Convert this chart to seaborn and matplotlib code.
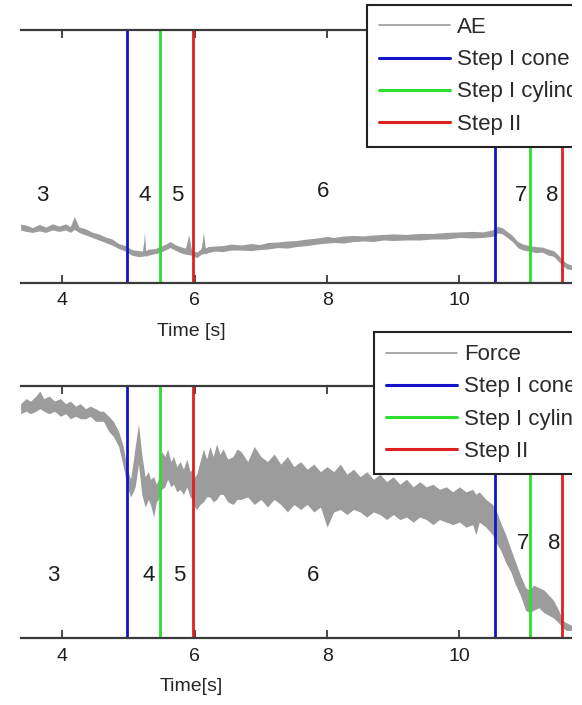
import numpy as np
import pandas as pd
import matplotlib
matplotlib.use("Agg")
import matplotlib.pyplot as plt
import seaborn as sns
from matplotlib.lines import Line2D
from matplotlib.patches import Rectangle

# ---------------- data (y as fraction of panel height) -------------
ae_t = [3.37, 3.45, 3.55, 3.65, 3.75, 3.85, 3.95, 4.05, 4.12, 4.18, 4.25, 4.35, 4.45, 4.55,
        4.65, 4.75, 4.85, 4.95, 5.05, 5.15, 5.22, 5.24, 5.26, 5.30, 5.40, 5.47, 5.55, 5.63,
        5.70, 5.78, 5.86, 5.91, 5.95, 6.03, 6.10, 6.13, 6.16, 6.20, 6.30, 6.42, 6.55, 6.70,
        6.85, 6.98, 7.10, 7.25, 7.40, 7.54, 7.70, 7.85, 8.00, 8.10, 8.25, 8.40, 8.55, 8.70,
        8.85, 9.00, 9.20, 9.40, 9.60, 9.80, 10.00, 10.20, 10.35, 10.50, 10.58, 10.65, 10.72,
        10.80, 10.88, 10.96, 11.06, 11.15, 11.25, 11.34, 11.42, 11.48, 11.55, 11.62, 11.70]
ae_hi = [0.232, 0.228, 0.218, 0.231, 0.220, 0.233, 0.224, 0.233, 0.222, 0.262, 0.221, 0.213,
         0.200, 0.193, 0.181, 0.173, 0.155, 0.147, 0.131, 0.127, 0.125, 0.200, 0.127, 0.133,
         0.135, 0.143, 0.151, 0.163, 0.151, 0.143, 0.137, 0.190, 0.131, 0.121, 0.135, 0.200,
         0.137, 0.143, 0.145, 0.147, 0.153, 0.149, 0.155, 0.151, 0.159, 0.161, 0.165, 0.167,
         0.173, 0.177, 0.183, 0.179, 0.185, 0.187, 0.185, 0.189, 0.191, 0.193, 0.191, 0.195,
         0.195, 0.199, 0.201, 0.203, 0.201, 0.209, 0.223, 0.217, 0.203, 0.187, 0.163, 0.153,
         0.147, 0.143, 0.141, 0.133, 0.127, 0.113, 0.093, 0.077, 0.069]
ae_lo = [0.208, 0.203, 0.199, 0.205, 0.199, 0.209, 0.203, 0.209, 0.199, 0.211, 0.199, 0.189,
         0.179, 0.169, 0.159, 0.149, 0.135, 0.125, 0.109, 0.103, 0.105, 0.107, 0.105, 0.109,
         0.115, 0.119, 0.129, 0.139, 0.129, 0.119, 0.113, 0.111, 0.109, 0.099, 0.113, 0.115,
         0.115, 0.119, 0.125, 0.123, 0.129, 0.129, 0.127, 0.131, 0.133, 0.139, 0.137, 0.143,
         0.147, 0.153, 0.157, 0.159, 0.157, 0.163, 0.165, 0.163, 0.169, 0.167, 0.169, 0.169,
         0.173, 0.173, 0.179, 0.177, 0.179, 0.183, 0.197, 0.193, 0.179, 0.163, 0.139, 0.129,
         0.125, 0.119, 0.121, 0.109, 0.105, 0.089, 0.069, 0.055, 0.051]

force_t = [3.37, 3.45, 3.52, 3.60, 3.66, 3.72, 3.80, 3.88, 3.97, 4.05, 4.12, 4.20, 4.27, 4.35,
           4.42, 4.50, 4.57, 4.62, 4.70, 4.77, 4.85, 4.92, 4.98, 5.03, 5.07, 5.10, 5.15, 5.20,
           5.25, 5.30, 5.33, 5.38, 5.42, 5.45, 5.50, 5.55, 5.59, 5.64, 5.68, 5.73, 5.78, 5.83,
           5.88, 5.93, 5.96, 6.00, 6.03, 6.08, 6.13, 6.18, 6.23, 6.28, 6.33, 6.38, 6.43, 6.50,
           6.58, 6.64, 6.70, 6.80, 6.90, 7.00, 7.10, 7.20, 7.30, 7.40, 7.50, 7.60, 7.70, 7.80,
           7.90, 8.00, 8.10, 8.20, 8.30, 8.40, 8.50, 8.60, 8.70, 8.80, 8.90, 9.00, 9.10, 9.20,
           9.30, 9.40, 9.50, 9.60, 9.70, 9.80, 9.90, 10.00, 10.10, 10.20, 10.25, 10.30, 10.40,
           10.50, 10.55, 10.62, 10.70, 10.78, 10.85, 10.92, 11.00, 11.06, 11.12, 11.20, 11.28,
           11.35, 11.42, 11.50, 11.56, 11.62, 11.70]
force_hi = [0.93, 0.95, 0.94, 0.96, 0.98, 0.95, 0.96, 0.94, 0.95, 0.93, 0.94, 0.92, 0.93, 0.91,
            0.92, 0.91, 0.90, 0.90, 0.88, 0.86, 0.82, 0.76, 0.67, 0.63, 0.70, 0.76, 0.85, 0.73,
            0.64, 0.66, 0.63, 0.64, 0.61, 0.63, 0.74, 0.72, 0.75, 0.70, 0.72, 0.68, 0.70, 0.67,
            0.71, 0.66, 0.67, 0.64, 0.65, 0.70, 0.75, 0.71, 0.76, 0.72, 0.77, 0.73, 0.75, 0.71,
            0.72, 0.75, 0.74, 0.70, 0.76, 0.72, 0.70, 0.73, 0.69, 0.72, 0.68, 0.70, 0.67, 0.69,
            0.66, 0.68, 0.66, 0.69, 0.65, 0.67, 0.64, 0.66, 0.63, 0.65, 0.62, 0.64, 0.61, 0.63,
            0.60, 0.62, 0.60, 0.61, 0.59, 0.60, 0.58, 0.60, 0.58, 0.59, 0.57, 0.58, 0.55,
            0.53, 0.51, 0.46, 0.41, 0.35, 0.30, 0.25, 0.20, 0.19, 0.21, 0.20, 0.19,
            0.17, 0.15, 0.11, 0.07, 0.06, 0.05]
force_lo = [0.89, 0.90, 0.89, 0.90, 0.91, 0.90, 0.89, 0.90, 0.88, 0.89, 0.87, 0.88, 0.87, 0.87,
            0.88, 0.86, 0.86, 0.86, 0.82, 0.80, 0.76, 0.68, 0.60, 0.56, 0.58, 0.60, 0.69, 0.57,
            0.52, 0.55, 0.53, 0.48, 0.54, 0.55, 0.59, 0.60, 0.63, 0.60, 0.61, 0.58, 0.59, 0.57,
            0.60, 0.56, 0.55, 0.52, 0.51, 0.53, 0.54, 0.56, 0.56, 0.54, 0.55, 0.57, 0.57, 0.54,
            0.53, 0.55, 0.55, 0.56, 0.53, 0.55, 0.52, 0.55, 0.53, 0.50, 0.53, 0.51, 0.53, 0.50,
            0.52, 0.44, 0.50, 0.51, 0.49, 0.51, 0.50, 0.48, 0.50, 0.49, 0.47, 0.49, 0.47, 0.48,
            0.46, 0.48, 0.47, 0.45, 0.47, 0.46, 0.45, 0.46, 0.44, 0.45, 0.41, 0.46, 0.44,
            0.41, 0.38, 0.35, 0.30, 0.26, 0.21, 0.17, 0.11, 0.10, 0.11, 0.12, 0.10,
            0.09, 0.08, 0.06, 0.04, 0.03, 0.03]

step_cone = [4.98, 10.54]
step_cyl = [5.48, 11.06]
step_ii = [5.97, 11.55]

xticks = [4, 6, 8, 10]

ae_labels = ["3", "4", "5", "6", "7", "8"]
ae_label_t = [3.70, 5.24, 5.73, 7.94, 10.93, 11.40]
ae_label_y = [0.347, 0.347, 0.347, 0.36, 0.347, 0.347]
force_labels = ["3", "4", "5", "6", "7", "8"]
force_label_t = [3.86, 5.30, 5.77, 7.79, 10.96, 11.43]
force_label_y = [0.248, 0.248, 0.248, 0.248, 0.374, 0.374]

legend_steps = ["Step I cone", "Step I cylinder", "Step II"]

assert len(ae_t) == len(ae_hi) == len(ae_lo)
assert len(force_t) == len(force_hi) == len(force_lo)

# ---------------- style -------------
sns.set_style("white")
plt.rcParams["font.family"] = ["Liberation Sans", "DejaVu Sans"]
plt.rcParams["text.color"] = "#1e1e1e"

GREY = "#9c9c9c"
BLUE = "#1414c8"
GREEN = "#2ee02e"
RED = "#e02020"
SPINE = "#3a3a3a"

W, H = 582, 705
fig = plt.figure(figsize=(W / 100, H / 100), dpi=100)
fig.patch.set_facecolor("white")


def rect(l, t, r, b):
    return [l / W, 1 - b / H, (r - l) / W, (b - t) / H]


ax1 = fig.add_axes(rect(20.7, 30, 640, 282.7))
ax2 = fig.add_axes(rect(20.7, 386, 640, 638))


def draw_signal(ax, t, hi, lo, lw):
    df = pd.DataFrame({"t": list(t) + list(t), "v": list(hi) + list(lo)})
    sns.lineplot(data=df, x="t", y="v", ax=ax, estimator="mean",
                 errorbar=("pi", 100), color=GREY, linewidth=lw,
                 err_kws={"alpha": 1, "linewidth": 0})


def style_axes(ax, xlabel):
    ax.set_xlim(3.37, 12.729)
    ax.set_ylim(0, 1)
    ax.set_yticks([])
    ax.set_xticks(xticks)
    ax.set_xticklabels([str(v) for v in xticks])
    ax.tick_params(axis="x", direction="in", top=True, bottom=True, length=6,
                   width=1.3, color=SPINE, labelsize=14, pad=7, labelcolor="#1e1e1e")
    for s in ["left", "right"]:
        ax.spines[s].set_visible(False)
    for s in ["top", "bottom"]:
        ax.spines[s].set_visible(True)
        ax.spines[s].set_color(SPINE)
        ax.spines[s].set_linewidth(1.6)
    ax.set_ylabel("")
    ax.set_xlabel(xlabel, fontsize=14)
    ax.xaxis.set_label_coords(0.276, -0.16)
    ax.xaxis.label.set_va("top")
    for v in step_cone:
        ax.axvline(v, color=BLUE, lw=2)
    for v in step_cyl:
        ax.axvline(v, color=GREEN, lw=2)
    for v in step_ii:
        ax.axvline(v, color=RED, lw=2)


def add_legend(ax, first, anchor):
    handles = [Line2D([], [], color=GREY, lw=1.2),
               Line2D([], [], color=BLUE, lw=2.2),
               Line2D([], [], color=GREEN, lw=2.2),
               Line2D([], [], color=RED, lw=2.2)]
    leg = ax.legend(handles, [first] + legend_steps, loc="upper left",
                    bbox_to_anchor=anchor, borderaxespad=0, fontsize=16,
                    handlelength=3.2, handletextpad=0.32, borderpad=0.55,
                    labelspacing=0.5, frameon=True, fancybox=False,
                    edgecolor="#222222", framealpha=1, facecolor="white")
    leg.get_frame().set_linewidth(1.5)
    for tx in leg.get_texts():
        tx.set_color("#2a2a2a")


draw_signal(ax1, ae_t, ae_hi, ae_lo, 0.6)
style_axes(ax1, "Time [s]")
for s, x, y in zip(ae_labels, ae_label_t, ae_label_y):
    ax1.text(x, y, s, ha="center", va="center", fontsize=16)
add_legend(ax1, "AE", (0.559, 1.099))

draw_signal(ax2, force_t, force_hi, force_lo, 0.8)
style_axes(ax2, "Time[s]")
for s, x, y in zip(force_labels, force_label_t, force_label_y):
    ax2.text(x, y, s, ha="center", va="center", fontsize=16)
add_legend(ax2, "Force", (0.5705, 1.214))

# the reference image is cropped on the right
fig.patches.append(Rectangle((571.5 / W, 0), 1, 1, transform=fig.transFigure,
                             facecolor="white", edgecolor="none", zorder=10))

fig.savefig("out.png", dpi=100, facecolor="white")
